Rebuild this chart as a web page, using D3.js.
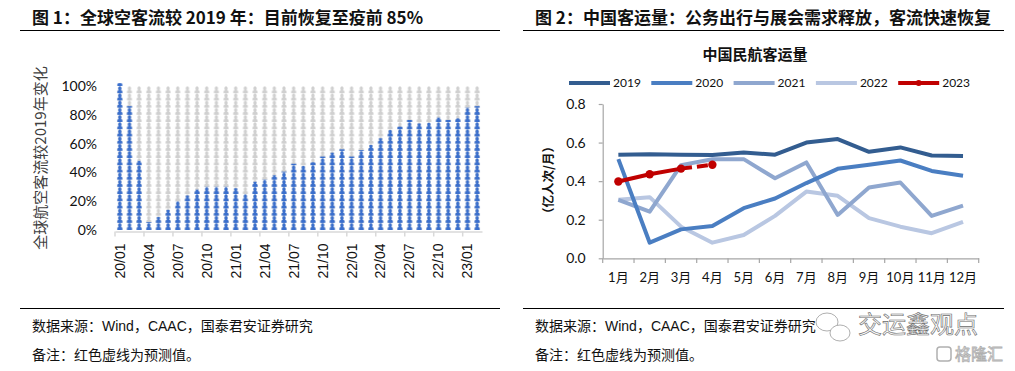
<!DOCTYPE html>
<html lang="zh">
<head>
<meta charset="UTF-8">
<title>客流恢复</title>
<style>
  body { margin: 0; background: #fff; }
  svg { display: block; }
  .cjk { font-family: "Noto Sans CJK SC", sans-serif; }
  .num { font-family: Lato, "Noto Sans CJK SC", sans-serif; }
</style>
</head>
<body>
<script src="https://cdn.jsdelivr.net/npm/d3@7"></script>
<script>
// ---- data ----
var months = ["20/01","20/02","20/03","20/04","20/05","20/06","20/07","20/08","20/09","20/10","20/11","20/12",
              "21/01","21/02","21/03","21/04","21/05","21/06","21/07","21/08","21/09","21/10","21/11","21/12",
              "22/01","22/02","22/03","22/04","22/05","22/06","22/07","22/08","22/09","22/10","22/11","22/12",
              "23/01","23/02"];
var recovery = [1.02,0.86,0.48,0.055,0.09,0.14,0.20,0.24,0.28,0.30,0.30,0.30,
                0.29,0.25,0.335,0.35,0.38,0.405,0.46,0.445,0.47,0.51,0.537,0.56,
                0.51,0.555,0.59,0.637,0.694,0.718,0.764,0.74,0.745,0.78,0.764,0.775,
                0.85,0.86];
var recoveryTicks = [0, 0.2, 0.4, 0.6, 0.8, 1.0];

var monthNames = ["1月","2月","3月","4月","5月","6月","7月","8月","9月","10月","11月","12月"];
var years = ["2019","2020","2021","2022","2023"];
var pax2019 = [0.537,0.540,0.537,0.535,0.548,0.537,0.600,0.618,0.552,0.575,0.533,0.531];
var pax2020 = [0.514,0.081,0.150,0.168,0.260,0.310,0.390,0.464,0.485,0.507,0.453,0.428];
var pax2021 = [0.303,0.242,0.483,0.514,0.514,0.415,0.497,0.225,0.367,0.393,0.220,0.273];
var pax2022 = [0.303,0.317,0.164,0.081,0.121,0.220,0.346,0.324,0.208,0.164,0.130,0.189];
var pax2023 = [0.398,0.436,0.465,0.485];
var paxTicks = [0, 0.2, 0.4, 0.6, 0.8];

var yearColors = ["#335d90", "#4a7ec2", "#8fa7cf", "#b9c7e2", "#c00000"];

var W = 1015, H = 371;
var svg = d3.select("body").append("svg")
    .attr("width", W)
    .attr("height", H);

// ---- headers / footers ----
function header(x0, x1, tx, title) {
  svg.append("text").attr("class", "cjk")
    .attr("x", tx).attr("y", 24)
    .attr("font-size", 17).attr("font-weight", "bold").attr("fill", "#111")
    .text(title);
  svg.append("line")
    .attr("x1", x0).attr("x2", x1).attr("y1", 30.5).attr("y2", 30.5)
    .attr("stroke", "#000").attr("stroke-width", 1.2);
  svg.append("line")
    .attr("x1", x0).attr("x2", x1).attr("y1", 308.5).attr("y2", 308.5)
    .attr("stroke", "#000").attr("stroke-width", 1.2);
  svg.append("text")
    .attr("x", tx).attr("y", 331)
    .attr("font-size", 14).attr("fill", "#111")
    .attr("font-family", "'Liberation Sans', 'Noto Sans CJK SC', sans-serif")
    .text("数据来源：Wind，CAAC，国泰君安证券研究");
  svg.append("text")
    .attr("x", tx).attr("y", 360)
    .attr("font-size", 14).attr("fill", "#111")
    .attr("font-family", "'Liberation Sans', 'Noto Sans CJK SC', sans-serif")
    .text("备注：红色虚线为预测值。");
}
header(20, 500, 32, "图 1：全球空客流较 2019 年：目前恢复至疫前 85%");
header(523, 1004, 535, "图 2：中国客运量：公务出行与展会需求释放，客流快速恢复");

// ---- left chart: pictorial bars ----
var xL = d3.scaleBand().domain(months).range([115, 482]);
var yL = d3.scaleLinear().domain([0, 1]).range([230, 86]);

var step = xL.step();
var tileH = yL(0) - yL(0.05);
var defs = svg.append("defs");

// one person per tile, tiles start at the zero line
function personPattern(id, color) {
  var p = defs.append("pattern")
      .attr("id", id)
      .attr("patternUnits", "userSpaceOnUse")
      .attr("x", xL.range()[0]).attr("y", yL(0))
      .attr("width", step).attr("height", tileH);
  var cx = step / 2, h = tileH;
  p.append("ellipse")
    .attr("cx", cx).attr("cy", h - 4.7)
    .attr("rx", 1.65).attr("ry", 2.25)
    .attr("fill", color);
  p.append("path")
    .attr("d", "M" + (cx - 2.5) + "," + (h - 0.1) +
               " L" + (cx - 2.5) + "," + (h - 1.8) +
               " Q" + (cx - 2.5) + "," + (h - 2.8) + " " + (cx - 1.5) + "," + (h - 2.8) +
               " L" + (cx + 1.5) + "," + (h - 2.8) +
               " Q" + (cx + 2.5) + "," + (h - 2.8) + " " + (cx + 2.5) + "," + (h - 1.8) +
               " L" + (cx + 2.5) + "," + (h - 0.1) + " Z")
    .attr("fill", color);
}
personPattern("personGray", "#d0d0d0");
personPattern("personBlue", "#3a6fcd");

var left = svg.append("g");

left.selectAll("rect.bg")
  .data(months)
  .enter().append("rect")
    .attr("class", "bg")
    .attr("x", function(d) { return xL(d); })
    .attr("width", step)
    .attr("y", yL(1))
    .attr("height", yL(0) - yL(1))
    .attr("fill", "url(#personGray)");

left.selectAll("rect.val")
  .data(recovery)
  .enter().append("rect")
    .attr("class", "val")
    .attr("x", function(d, i) { return xL(months[i]); })
    .attr("width", step)
    .attr("y", function(d) { return yL(d); })
    .attr("height", function(d) { return yL(0) - yL(d); })
    .attr("fill", "url(#personBlue)");

// y axis (labels only)
var yAxisL = d3.axisLeft(yL)
    .tickValues(recoveryTicks)
    .tickFormat(d3.format(".0%"))
    .tickSize(0)
    .tickPadding(18);
left.append("g")
    .attr("transform", "translate(115,0)")
    .call(yAxisL)
    .call(function(g) {
      g.select(".domain").remove();
      g.selectAll("text")
        .attr("class", "num")
        .attr("font-size", 14)
        .attr("fill", "#111");
    });

// x axis
var labelMonths = months.filter(function(d, i) { return i % 3 === 0; });
var xAxisL = d3.axisBottom(xL)
    .tickValues(labelMonths)
    .tickSize(0)
    .tickSizeOuter(0);
left.append("g")
    .attr("transform", "translate(0,231.5)")
    .call(xAxisL)
    .call(function(g) {
      g.select(".domain").attr("stroke", "#d9d9d9").attr("stroke-width", 1.5);
      g.selectAll("text")
        .attr("transform", "rotate(-90)")
        .attr("x", -12).attr("y", 0).attr("dy", "0.35em")
        .attr("text-anchor", "end")
        .attr("font-family", "'Liberation Sans', sans-serif")
        .attr("font-size", 14)
        .attr("fill", "#111");
    });
left.selectAll("line.xtick")
  .data(labelMonths)
  .enter().append("line")
    .attr("class", "xtick")
    .attr("x1", function(d) { return xL(d); })
    .attr("x2", function(d) { return xL(d); })
    .attr("y1", 231.5).attr("y2", 236.5)
    .attr("stroke", "#d9d9d9").attr("stroke-width", 1.5);

left.append("text").attr("class", "cjk")
    .attr("transform", "translate(46,158) rotate(-90)")
    .attr("text-anchor", "middle")
    .attr("font-size", 15)
    .attr("fill", "#404040")
    .text("全球航空客流较2019年变化");

// ---- right chart: lines ----
var xR = d3.scaleBand().domain(monthNames).range([602.7, 978.7]);
var yR = d3.scaleLinear().domain([0, 0.8]).range([258.3, 104]);
var right = svg.append("g");

right.append("text").attr("class", "cjk")
    .attr("x", 755).attr("y", 60)
    .attr("text-anchor", "middle")
    .attr("font-size", 15).attr("font-weight", "bold").attr("fill", "#111")
    .text("中国民航客运量");

var yAxisR = d3.axisLeft(yR)
    .tickValues(paxTicks)
    .tickFormat(d3.format(".1f"))
    .tickSize(4)
    .tickSizeOuter(0)
    .tickPadding(13);
right.append("g")
    .attr("transform", "translate(602.7,0)")
    .call(yAxisR)
    .call(function(g) {
      g.selectAll(".domain, line").attr("stroke", "#a6a6a6").attr("stroke-width", 1.2);
      g.selectAll("text").attr("class", "num").attr("font-size", 14).attr("fill", "#111");
    });

var xAxisR = d3.axisBottom(xR).tickSize(0).tickSizeOuter(0).tickPadding(14);
right.append("g")
    .attr("transform", "translate(0,258.3)")
    .call(xAxisR)
    .call(function(g) {
      g.select(".domain").attr("stroke", "#a6a6a6").attr("stroke-width", 1.2);
      g.selectAll("text").attr("class", "num").attr("font-size", 13).attr("fill", "#111");
    });
right.selectAll("line.xtick")
  .data(monthNames.concat(["end"]))
  .enter().append("line")
    .attr("class", "xtick")
    .attr("x1", function(d, i) { return xR.range()[0] + i * xR.step(); })
    .attr("x2", function(d, i) { return xR.range()[0] + i * xR.step(); })
    .attr("y1", 258.3).attr("y2", 263)
    .attr("stroke", "#a6a6a6").attr("stroke-width", 1.2);

right.append("text").attr("class", "cjk")
    .attr("transform", "translate(553,180) rotate(-90)")
    .attr("text-anchor", "middle")
    .attr("font-size", 12.5).attr("font-weight", "bold").attr("fill", "#111")
    .text("（亿人次/月）");

var line = d3.line()
    .x(function(d, i) { return xR(monthNames[i]) + xR.bandwidth() / 2; })
    .y(function(d) { return yR(d); });

var series = [pax2019, pax2020, pax2021, pax2022];
right.selectAll("path.yr")
  .data(series.slice().reverse())
  .enter().append("path")
    .attr("class", "yr")
    .attr("d", function(d) { return line(d); })
    .attr("fill", "none")
    .attr("stroke", function(d, i) { return yearColors[3 - i]; })
    .attr("stroke-width", 4)
    .attr("stroke-linejoin", "round");

// 2023: solid through March, dashed forecast to April
var line23 = d3.line()
    .x(function(d) { return xR(monthNames[d.i]) + xR.bandwidth() / 2; })
    .y(function(d) { return yR(d.v); });
var pts23 = pax2023.map(function(v, i) { return {i: i, v: v}; });
right.append("path")
    .attr("d", line23(pts23.slice(0, 3)))
    .attr("fill", "none").attr("stroke", yearColors[4]).attr("stroke-width", 4);
right.append("path")
    .attr("d", line23(pts23.slice(2)))
    .attr("fill", "none").attr("stroke", yearColors[4]).attr("stroke-width", 4)
    .attr("stroke-dasharray", "11,5");
right.selectAll("circle.p23")
  .data(pts23)
  .enter().append("circle")
    .attr("class", "p23")
    .attr("cx", function(d) { return xR(monthNames[d.i]) + xR.bandwidth() / 2; })
    .attr("cy", function(d) { return yR(d.v); })
    .attr("r", 4.2)
    .attr("fill", yearColors[4]);

// legend
var legend = right.selectAll("g.lg")
  .data(years)
  .enter().append("g")
    .attr("class", "lg")
    .attr("transform", function(d, i) { return "translate(" + (569 + i * 82.3) + ",83)"; });
legend.append("line")
    .attr("x1", 0).attr("x2", 41)
    .attr("stroke", function(d, i) { return yearColors[i]; })
    .attr("stroke-width", 4);
legend.filter(function(d) { return d === "2023"; })
  .append("circle").attr("cx", 20.5).attr("r", 3).attr("fill", yearColors[4]);
legend.append("text").attr("class", "num")
    .attr("x", 44).attr("dy", "0.35em")
    .attr("font-size", 12).attr("fill", "#111")
    .text(function(d) { return d; });

// ---- watermarks ----
var wm = svg.append("g").attr("fill", "none").attr("stroke", "#9a9a9a").attr("stroke-width", 0.8);
wm.append("ellipse").attr("cx", 827).attr("cy", 322).attr("rx", 11).attr("ry", 9);
wm.append("ellipse").attr("cx", 840).attr("cy", 333).attr("rx", 10).attr("ry", 8).attr("fill", "#fff");
svg.append("text").attr("class", "cjk")
    .attr("x", 858).attr("y", 333)
    .attr("font-size", 24).attr("fill", "#fafafa")
    .attr("stroke", "#6a6a6a").attr("stroke-width", 0.6)
    .text("交运鑫观点");
svg.append("rect")
    .attr("x", 937).attr("y", 347).attr("width", 14).attr("height", 14).attr("rx", 3)
    .attr("fill", "none").attr("stroke", "#b0b0b0").attr("stroke-width", 1.5);
svg.append("text").attr("class", "cjk")
    .attr("x", 955).attr("y", 360)
    .attr("font-size", 16).attr("fill", "#f2f2f2")
    .attr("stroke", "#b0b0b0").attr("stroke-width", 0.8)
    .text("格隆汇");
</script>
</body>
</html>
